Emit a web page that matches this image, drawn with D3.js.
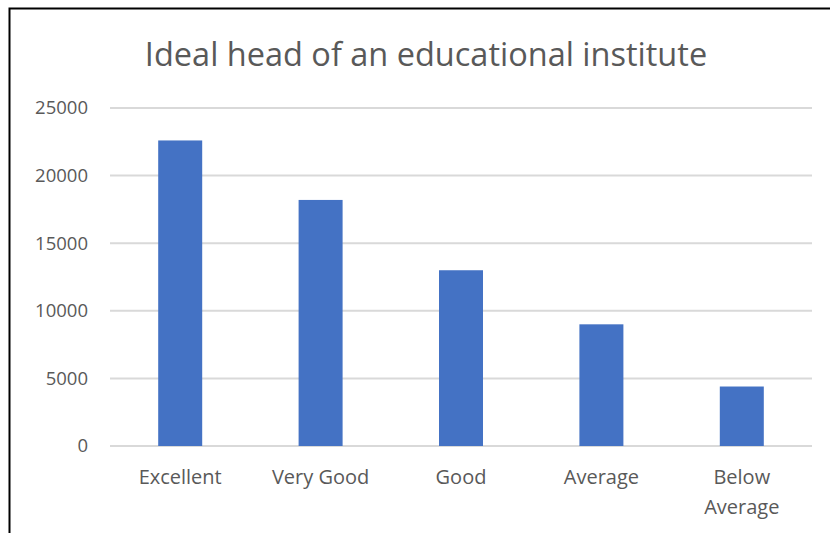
<!DOCTYPE html>
<html>
<head>
<meta charset="utf-8">
<script src="https://cdn.jsdelivr.net/npm/d3@7"></script>
<style>
  body { margin: 0; background: #fff; }
  text { font-family: "Open Sans", "Noto Sans", sans-serif; fill: #595959; }
</style>
</head>
<body>
<script>
// Chart data
const categories = ["Excellent", "Very Good", "Good", "Average", "Below Average"];
const values = [22600, 18200, 13000, 9000, 4400];
const yTicks = [0, 5000, 10000, 15000, 20000, 25000];

const w = 830;
const h = 533;
const margin = { top: 108, right: 18, bottom: 87, left: 110 };

const svg = d3.select("body")
  .append("svg")
  .attr("width", w)
  .attr("height", h);

// Frame of the chart area (only left and top edges show in the picture)
svg.append("rect")
  .attr("x", 9.5)
  .attr("y", 8.5)
  .attr("width", 830)
  .attr("height", 540)
  .attr("fill", "none")
  .attr("stroke", "#000")
  .attr("stroke-width", 2);

// Title
svg.append("text")
  .attr("x", 426)
  .attr("y", 66)
  .attr("text-anchor", "middle")
  .style("font-size", "32.5px")
  .text("Ideal head of an educational institute");

// Scales
const xScale = d3.scaleBand()
  .domain(categories)
  .range([margin.left, w - margin.right])
  .padding(0);

const yScale = d3.scaleLinear()
  .domain([0, 25000])
  .range([h - margin.bottom, margin.top]);

// Gridlines
svg.append("g")
  .selectAll("line")
  .data(yTicks)
  .enter()
  .append("line")
  .attr("x1", margin.left)
  .attr("x2", w - margin.right)
  .attr("y1", d => yScale(d))
  .attr("y2", d => yScale(d))
  .attr("stroke", "#d9d9d9")
  .attr("stroke-width", 2);

// Y axis labels
const yAxis = svg.append("g")
  .attr("transform", `translate(${margin.left - 22},0)`)
  .call(d3.axisLeft(yScale).tickValues(yTicks).tickSize(0).tickPadding(0).tickFormat(d3.format("d")));
yAxis.select(".domain").remove();
yAxis.selectAll("text")
  .style("font-size", "18.5px")
  .style("font-family", null)
  .attr("fill", "#595959");

// Bars
const barW = 44;
svg.append("g")
  .selectAll("rect")
  .data(values)
  .enter()
  .append("rect")
  .attr("x", (d, i) => xScale(categories[i]) + (xScale.bandwidth() - barW) / 2)
  .attr("y", d => yScale(d))
  .attr("width", barW)
  .attr("height", d => yScale(0) - yScale(d))
  .attr("fill", "#4472c4");

// Category labels, wrapped to two lines where needed
const xLabels = svg.append("g")
  .selectAll("text")
  .data(categories)
  .enter()
  .append("text")
  .attr("text-anchor", "middle")
  .attr("x", d => xScale(d) + xScale.bandwidth() / 2)
  .attr("y", 484)
  .style("font-size", "20px");

xLabels.each(function(d) {
  const lines = d === "Below Average" ? ["Below", "Average"] : [d];
  const t = d3.select(this);
  const x = xScale(d) + xScale.bandwidth() / 2;
  lines.forEach(function(line, k) {
    t.append("tspan")
      .attr("x", x)
      .attr("dy", k === 0 ? 0 : 30)
      .text(line);
  });
});
</script>
</body>
</html>
